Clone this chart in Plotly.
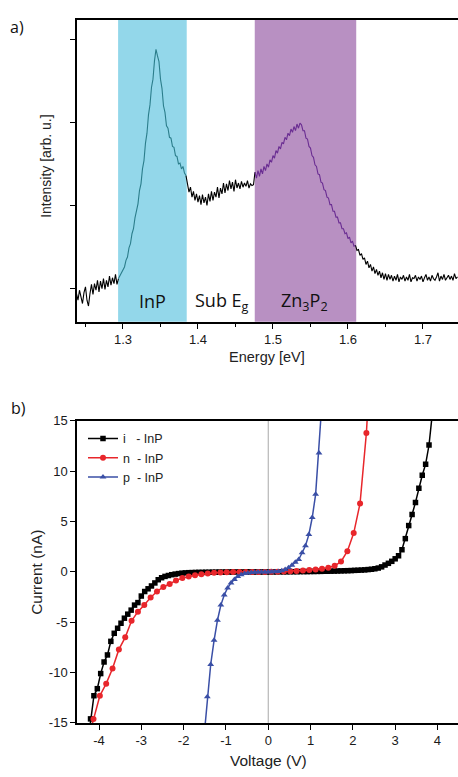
import plotly.graph_objects as go

W, H = 458, 777

# ---------------- panel a) : spectrum ----------------
energy = [
    1.238, 1.240, 1.242, 1.244, 1.246, 1.248, 1.250, 1.252, 1.254, 1.256,
    1.258, 1.260, 1.262, 1.264, 1.266, 1.268, 1.270, 1.272, 1.274, 1.276,
    1.278, 1.280, 1.282, 1.284, 1.286, 1.288, 1.290, 1.292, 1.294, 1.296,
    1.298, 1.300, 1.302, 1.304, 1.306, 1.308, 1.310, 1.312, 1.314, 1.316,
    1.318, 1.320, 1.322, 1.324, 1.326, 1.328, 1.330, 1.332, 1.334, 1.336,
    1.338, 1.340, 1.342, 1.344, 1.346, 1.348, 1.350, 1.352, 1.354, 1.356,
    1.358, 1.360, 1.362, 1.364, 1.366, 1.368, 1.370, 1.372, 1.374, 1.376,
    1.378, 1.380, 1.382, 1.384, 1.386, 1.388, 1.390, 1.392, 1.394, 1.396,
    1.398, 1.400, 1.402, 1.404, 1.406, 1.408, 1.410, 1.412, 1.414, 1.416,
    1.418, 1.420, 1.422, 1.424, 1.426, 1.428, 1.430, 1.432, 1.434, 1.436,
    1.438, 1.440, 1.442, 1.444, 1.446, 1.448, 1.450, 1.452, 1.454, 1.456,
    1.458, 1.460, 1.462, 1.464, 1.466, 1.468, 1.470, 1.472, 1.474, 1.476,
    1.478, 1.480, 1.482, 1.484, 1.486, 1.488, 1.490, 1.492, 1.494, 1.496,
    1.498, 1.500, 1.502, 1.504, 1.506, 1.508, 1.510, 1.512, 1.514, 1.516,
    1.518, 1.520, 1.522, 1.524, 1.526, 1.528, 1.530, 1.532, 1.534, 1.536,
    1.538, 1.540, 1.542, 1.544, 1.546, 1.548, 1.550, 1.552, 1.554, 1.556,
    1.558, 1.560, 1.562, 1.564, 1.566, 1.568, 1.570, 1.572, 1.574, 1.576,
    1.578, 1.580, 1.582, 1.584, 1.586, 1.588, 1.590, 1.592, 1.594, 1.596,
    1.598, 1.600, 1.602, 1.604, 1.606, 1.608, 1.610, 1.612, 1.614, 1.616,
    1.618, 1.620, 1.622, 1.624, 1.626, 1.628, 1.630, 1.632, 1.634, 1.636,
    1.638, 1.640, 1.642, 1.644, 1.646, 1.648, 1.650, 1.652, 1.654, 1.656,
    1.658, 1.660, 1.662, 1.664, 1.666, 1.668, 1.670, 1.672, 1.674, 1.676,
    1.678, 1.680, 1.682, 1.684, 1.686, 1.688, 1.690, 1.692, 1.694, 1.696,
    1.698, 1.700, 1.702, 1.704, 1.706, 1.708, 1.710, 1.712, 1.714, 1.716,
    1.718, 1.720, 1.722, 1.724, 1.726, 1.728, 1.730, 1.732, 1.734, 1.736,
    1.738, 1.740, 1.742, 1.744, 1.746,
]
intensity = [
    -0.06, -0.14, -0.02, -0.11, -0.18, -0.05, 0.02, -0.14, -0.21, -0.06,
    0.05, -0.07, 0.06, -0.02, 0.10, -0.04, 0.09, 0.00, 0.12, -0.01,
    0.10, 0.02, 0.15, 0.04, 0.13, 0.06, 0.17, 0.05, 0.12, 0.16,
    0.18, 0.24, 0.26, 0.34, 0.38, 0.49, 0.54, 0.66, 0.72, 0.85,
    0.95, 1.02, 1.18, 1.26, 1.44, 1.54, 1.75, 1.87, 2.09, 2.21,
    2.42, 2.52, 2.74, 2.88, 2.80, 2.73, 2.52, 2.41, 2.20, 2.12,
    1.96, 1.93, 1.82, 1.81, 1.71, 1.70, 1.60, 1.59, 1.50, 1.51,
    1.44, 1.47, 1.39, 1.36, 1.27, 1.16, 1.22, 1.10, 1.17, 1.06,
    1.14, 1.04, 1.12, 1.01, 1.13, 1.03, 1.10, 1.00, 1.14, 1.05,
    1.17, 1.06, 1.16, 1.10, 1.22, 1.09, 1.21, 1.14, 1.27, 1.15,
    1.26, 1.18, 1.30, 1.20, 1.28, 1.17, 1.31, 1.21, 1.27, 1.20,
    1.29, 1.22, 1.27, 1.23, 1.30, 1.21, 1.26, 1.24, 1.25, 1.40,
    1.33, 1.42, 1.35, 1.44, 1.38, 1.47, 1.42, 1.50, 1.46, 1.55,
    1.52, 1.60, 1.57, 1.66, 1.63, 1.71, 1.68, 1.76, 1.74, 1.82,
    1.79, 1.87, 1.84, 1.92, 1.88, 1.95, 1.90, 1.98, 1.93, 1.99,
    1.97, 1.90, 1.90, 1.81, 1.80, 1.71, 1.69, 1.60, 1.58, 1.49,
    1.47, 1.38, 1.37, 1.28, 1.27, 1.19, 1.18, 1.10, 1.09, 1.01,
    1.01, 0.93, 0.93, 0.86, 0.86, 0.79, 0.79, 0.72, 0.72, 0.66,
    0.67, 0.60, 0.62, 0.55, 0.57, 0.51, 0.52, 0.46, 0.47, 0.40,
    0.42, 0.35, 0.37, 0.29, 0.33, 0.25, 0.29, 0.21, 0.26, 0.18,
    0.23, 0.16, 0.21, 0.13, 0.19, 0.11, 0.18, 0.10, 0.17, 0.11,
    0.16, 0.09, 0.15, 0.10, 0.17, 0.08, 0.14, 0.11, 0.16, 0.09,
    0.14, 0.10, 0.17, 0.08, 0.13, 0.12, 0.16, 0.09, 0.14, 0.11,
    0.15, 0.08, 0.13, 0.17, 0.10, 0.14, 0.09, 0.16, 0.12, 0.10,
    0.14, 0.19, 0.09, 0.15, 0.11, 0.17, 0.10, 0.13, 0.16, 0.11,
    0.15, 0.10, 0.18, 0.12, 0.14,
]
inp_band = [1.2935, 1.385]
zn_band = [1.4757, 1.611]
band_labels = ["InP", "Sub E<sub>g</sub>", "Zn<sub>3</sub>P<sub>2</sub>"]
band_label_x = [1.3396, 1.4319, 1.5423]
a_ticks = [1.3, 1.4, 1.5, 1.6, 1.7]
a_yticks = [0, 1, 2, 3]

# ---------------- panel b) : IV curves ----------------
v_i = [-4.28, -4.20, -4.12, -4.04, -3.96, -3.88, -3.80, -3.72, -3.64, -3.56, -3.48,
       -3.40, -3.32, -3.24, -3.16, -3.08, -3.00, -2.92, -2.84, -2.76, -2.68,
       -2.60, -2.52, -2.44, -2.36, -2.28, -2.20, -2.12, -2.04, -1.96, -1.88,
       -1.80, -1.72, -1.64, -1.56, -1.48, -1.40, -1.32, -1.24, -1.16, -1.08,
       -1.00, -0.92, -0.84, -0.76, -0.68, -0.60, -0.52, -0.44, -0.36, -0.28,
       -0.20, -0.12, -0.04, 0.04, 0.12, 0.20, 0.28, 0.36, 0.44, 0.52,
       0.60, 0.68, 0.76, 0.84, 0.92, 1.00, 1.08, 1.16, 1.24, 1.32,
       1.40, 1.48, 1.56, 1.64, 1.72, 1.80, 1.88, 1.96, 2.04, 2.12,
       2.20, 2.28, 2.36, 2.44, 2.52, 2.60, 2.68, 2.76, 2.84, 2.92,
       3.00, 3.08, 3.16, 3.24, 3.32, 3.40, 3.48, 3.56, 3.64, 3.72,
       3.80, 3.88]
i_i = [-17.5, -14.6, -12.3, -11.6, -10.1, -8.95, -8.25, -6.9, -6.1, -5.6, -5.1,
       -4.6, -4.2, -3.8, -3.3, -3.05, -2.4, -1.95, -1.68, -1.40, -1.10,
       -0.78, -0.58, -0.45, -0.36, -0.28, -0.22, -0.17, -0.13, -0.10, -0.08,
       -0.07, -0.06, -0.05, -0.05, -0.04, -0.04, -0.03, -0.03, -0.02, -0.02,
       -0.02, -0.01, -0.01, -0.01, -0.01, -0.01, 0.0, 0.0, 0.0, 0.0,
       0.0, 0.0, 0.0, 0.0, 0.0, 0.01, 0.01, 0.01, 0.01, 0.02,
       0.02, 0.02, 0.03, 0.03, 0.03, 0.04, 0.04, 0.05, 0.05, 0.06,
       0.06, 0.07, 0.08, 0.09, 0.10, 0.11, 0.12, 0.13, 0.15, 0.16,
       0.18, 0.20, 0.23, 0.26, 0.31, 0.38, 0.50, 0.68, 0.85, 1.05,
       1.30, 1.60, 2.2, 3.3, 4.6, 5.7, 6.9, 8.3, 9.6, 10.7,
       12.6, 15.8]

v_n = [-4.28, -4.13, -3.98, -3.83, -3.68, -3.53, -3.38, -3.23, -3.08, -2.93, -2.78,
       -2.63, -2.48, -2.33, -2.18, -2.03, -1.88, -1.73, -1.58, -1.43, -1.28,
       -1.13, -0.98, -0.83, -0.68, -0.53, -0.38, -0.23, -0.08, 0.07, 0.22,
       0.37, 0.52, 0.67, 0.82, 0.97, 1.12, 1.27, 1.42, 1.57, 1.72,
       1.87, 2.02, 2.17, 2.32, 2.47]
i_n = [-17.0, -14.6, -12.3, -11.1, -9.6, -7.7, -6.5, -4.86, -3.95, -3.3, -2.55,
       -1.95, -1.5, -1.2, -0.85, -0.62, -0.45, -0.33, -0.23, -0.15, -0.09,
       -0.05, -0.03, -0.02, -0.01, 0.0, 0.0, 0.0, 0.0, 0.01, 0.02,
       0.03, 0.06, 0.09, 0.13, 0.18, 0.24, 0.32, 0.42, 0.60, 1.02,
       2.06, 3.85, 6.8, 13.8, 25.0]

v_p = [-1.52, -1.44, -1.36, -1.28, -1.20, -1.12, -1.04, -0.96, -0.88, -0.80,
       -0.72, -0.64, -0.56, -0.48, -0.40, -0.32, -0.24, -0.16, -0.08, 0.00,
       0.08, 0.16, 0.24, 0.32, 0.40, 0.48, 0.56, 0.64, 0.72, 0.80,
       0.88, 0.96, 1.04, 1.12, 1.20, 1.28]
i_p = [-16.5, -12.4, -9.2, -6.8, -4.8, -3.3, -2.3, -1.6, -1.1, -0.75,
       -0.45, -0.28, -0.17, -0.10, -0.06, -0.04, -0.02, -0.01, 0.0, 0.0,
       0.01, 0.02, 0.04, 0.12, 0.23, 0.40, 0.65, 0.95, 1.22, 1.9,
       2.6, 3.7, 5.4, 7.7, 11.8, 17.5]

series_names = ["i\u00a0\u00a0\u00a0- InP", "n\u00a0\u00a0- InP", "p\u00a0\u00a0- InP"]
series_colors = ["#000000", "#e8262b", "#3a4fa6"]
series_symbols = ["square", "circle", "triangle-up"]
b_xticks = [-4, -3, -2, -1, 0, 1, 2, 3, 4]
b_yticks = [-15, -10, -5, 0, 5, 10, 15]


def px(x):
    return x / W


def py(y):
    return 1 - y / H


fig = go.Figure()


def segment(lo, hi):
    xs, ys = [], []
    for e, v in zip(energy, intensity):
        if lo <= e <= hi:
            xs.append(e)
            ys.append(v)
    return xs, ys


segs = [
    (-1, 1.294, "#000000"),
    (1.294, 1.384, "#2b7d8b"),
    (1.384, 1.476, "#000000"),
    (1.476, 1.610, "#6a2d92"),
    (1.610, 9, "#000000"),
]
for lo, hi, col in segs:
    xs, ys = segment(lo, hi)
    fig.add_trace(go.Scatter(x=xs, y=ys, mode="lines", xaxis="x", yaxis="y",
                             line=dict(color=col, width=1.1), showlegend=False,
                             hoverinfo="skip"))

for name, vx, iy, col, sym in zip(series_names, [v_i, v_n, v_p], [i_i, i_n, i_p],
                                  series_colors, series_symbols):
    fig.add_trace(go.Scatter(x=vx, y=iy, mode="lines+markers", xaxis="x2", yaxis="y2",
                             name=name, line=dict(color=col, width=1.5),
                             marker=dict(color=col, symbol=sym, size=6 if sym != "square" else 5.5)))

shapes = [
    dict(type="rect", xref="x", yref="y domain", x0=inp_band[0], x1=inp_band[1], y0=0, y1=1,
         fillcolor="#93d7ea", line=dict(width=0), layer="below"),
    dict(type="rect", xref="x", yref="y domain", x0=zn_band[0], x1=zn_band[1], y0=0, y1=1,
         fillcolor="#b890c2", line=dict(width=0), layer="below"),
    dict(type="line", xref="x2", yref="y2 domain", x0=0, x1=0, y0=0, y1=1,
         line=dict(color="#a8a8a8", width=1), layer="below"),
]

annotations = []
for t, xv in zip(band_labels, band_label_x):
    annotations.append(dict(x=xv, y=-0.15, xref="x", yref="y", text=t, showarrow=False,
                            xanchor="center", yanchor="middle",
                            font=dict(family="Open Sans", size=18, color="#111111")))


def ann(text, x, y, size, angle=0, family="Liberation Sans", color="#222222"):
    annotations.append(dict(x=px(x), y=py(y), xref="paper", yref="paper", text=text,
                            showarrow=False, textangle=angle,
                            xanchor="center", yanchor="middle",
                            font=dict(family=family, size=size, color=color)))


ann("a)", 17, 20, 16, family="Open Sans", color="#111111")
ann("b)", 18, 409, 16, family="Open Sans", color="#111111")
ann("Energy [eV]", 267, 357, 14.5)
ann("Intensity [arb. u.]", 46, 162, 14, angle=-90)
ann("Current (nA)", 37, 577, 15.5, angle=-90)
ann("Voltage (V)", 268, 768, 15.5)

axis_common = dict(showline=True, linecolor="#000000", linewidth=1.5, ticks="outside",
                   tickcolor="#000000", tickwidth=1.3, ticklen=5, showgrid=False,
                   zeroline=False, tickfont=dict(family="Liberation Sans", size=13, color="#1a1a1a"))

fig.update_layout(
    width=W, height=H,
    margin=dict(l=0, r=0, t=0, b=0),
    paper_bgcolor="white", plot_bgcolor="white",
    showlegend=True,
    legend=dict(x=px(83), y=py(425), xanchor="left", yanchor="top",
                bgcolor="rgba(0,0,0,0)", font=dict(family="Liberation Sans", size=12.5, color="#222222"),
                tracegroupgap=0, itemwidth=30),
    xaxis=dict(domain=[px(77), 1], anchor="y", range=[1.2387, 1.7467],
               tickvals=a_ticks, ticktext=[f"{t:.1f}" for t in a_ticks], mirror=True,
               minor=dict(dtick=0.05, tick0=1.25, ticks="outside", ticklen=3,
                          tickcolor="#000000", tickwidth=1.2),
               **axis_common),
    yaxis=dict(domain=[py(321), py(13)], anchor="x", range=[-0.40, 3.235],
               tickvals=a_yticks, showticklabels=False, mirror=False, **axis_common),
    xaxis2=dict(domain=[px(77), 1], anchor="y2", range=[-4.52, 4.485],
                tickvals=b_xticks, ticktext=[str(t) for t in b_xticks],
                mirror=True, **axis_common),
    yaxis2=dict(domain=[py(730), py(422)], anchor="x2", range=[-15, 15],
                tickvals=b_yticks, ticktext=[str(t) for t in b_yticks],
                mirror=False, **axis_common),
    shapes=shapes,
    annotations=annotations,
)

fig.write_html("out.html", config={"displayModeBar": False},
               post_script="document.body.style.margin='0';document.body.style.overflow='hidden';")
